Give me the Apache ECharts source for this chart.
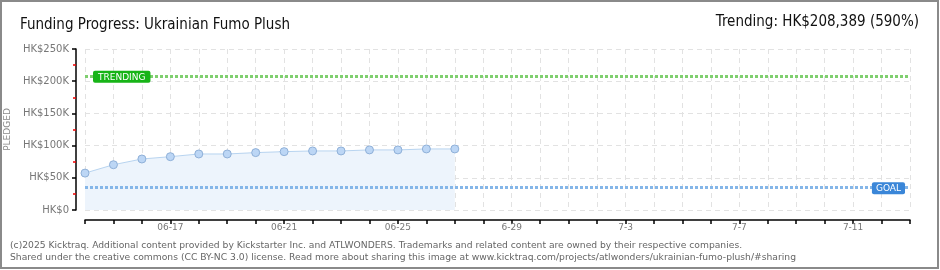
<!DOCTYPE html>
<html><head><meta charset="utf-8">
<script src="https://cdn.jsdelivr.net/npm/echarts@6/dist/echarts.min.js"></script>
<style>html,body{margin:0;padding:0;background:#fff}#c{width:940px;height:270px}</style>
</head><body><div id="c"></div>
<script>
const categories = ['06-14','06-15','06-16','06-17','06-18','06-19','06-20','06-21','06-22','06-23','06-24','06-25','06-26','06-27',
  '6-28','6-29','6-30','7-1','7-2','7-3','7-4','7-5','7-6','7-7','7-8','7-9','7-10','7-11','7-12','7-13'];
const pledged = [57300, 70300, 79200, 82800, 87000, 87000, 89100, 90600, 91700, 91700, 93300, 93300, 94800, 94800];
const goal = 35320;
const trending = 208389;
const yTicks = [0, 50000, 100000, 150000, 200000, 250000];
const titleText = 'Funding Progress: Ukrainian Fumo Plush';
const trendText = 'Trending: HK$208,389 (590%)';
const footer1 = '(c)2025 Kicktraq. Additional content provided by Kickstarter Inc. and ATLWONDERS. Trademarks and related content are owned by their respective companies.';
const footer2 = 'Shared under the creative commons (CC BY-NC 3.0) license. Read more about sharing this image at www.kicktraq.com/projects/atlwonders/ukrainian-fumo-plush/#sharing';

const chart = echarts.init(document.getElementById('c'), null, {renderer: 'canvas'});
const condensed = '"DejaVu Sans Condensed", "Liberation Sans Narrow", "DejaVu Sans", sans-serif';
chart.setOption({
  animation: false,
  backgroundColor: '#fff',
  title: [
    {text: titleText, left: 15, top: 13, textStyle: {fontFamily: condensed, fontSize: 15, fontWeight: 'normal', color: '#111'}},
    {text: trendText, right: 16, top: 10, textStyle: {fontFamily: condensed, fontSize: 15, fontWeight: 'normal', color: '#111'}},
    {text: footer1 + '\n' + footer2, left: 5, top: 235, textStyle: {fontFamily: '"DejaVu Sans", sans-serif', fontSize: 9.2, fontWeight: 'normal', color: '#666', lineHeight: 11.5}}
  ],
  graphic: [{type: 'rect', shape: {x: 1, y: 1, width: 937, height: 267}, style: {fill: 'none', stroke: '#8a8a8a', lineWidth: 2}, silent: true}],
  grid: {left: 85, right: 30, top: 49, bottom: 60, outerBoundsMode: 'none', containLabel: false},
  xAxis: {
    type: 'category', data: categories, boundaryGap: false, offset: 10,
    axisLine: {onZero: false, lineStyle: {color: '#000', width: 1.5}},
    axisTick: {interval: 0, length: 4, lineStyle: {color: '#000', width: 1.5}},
    axisLabel: {interval: (i) => i % 4 === 3, color: '#777', fontSize: 9, margin: 3, fontFamily: '"DejaVu Sans", sans-serif'},
    splitLine: {show: true, interval: 0, lineStyle: {color: '#e2e2e2', type: [5, 4]}}
  },
  yAxis: {
    type: 'value', min: 0, max: 250000, interval: 50000, offset: 9,
    name: 'PLEDGED', nameLocation: 'middle', nameGap: 58, nameRotate: 90,
    nameTextStyle: {color: '#888', fontSize: 9, fontFamily: '"DejaVu Sans", sans-serif'},
    axisLine: {show: true, lineStyle: {color: '#000', width: 1.5}},
    axisTick: {show: true, length: 4, lineStyle: {color: '#000', width: 1.5}},
    minorTick: {show: true, splitNumber: 2, length: 3, lineStyle: {color: '#e00', width: 1.5}},
    axisLabel: {color: '#777', fontSize: 10, margin: 7, fontFamily: '"DejaVu Sans", sans-serif',
      formatter: (v) => yTicks.includes(v) ? (v === 0 ? 'HK$0' : 'HK$' + (v / 1000) + 'K') : ''},
    splitLine: {show: true, lineStyle: {color: '#e2e2e2', type: [5, 4]}}
  },
  series: [{
    type: 'line', data: pledged, symbol: 'circle', symbolSize: 8,
    itemStyle: {color: '#bcd6f5', borderColor: '#8fb0d8', borderWidth: 1},
    lineStyle: {color: '#b8d4f0', width: 1},
    areaStyle: {color: '#edf4fc', opacity: 1},
    markLine: {
      silent: true, symbol: 'none',
      data: [
        {yAxis: trending, lineStyle: {color: '#7fcf6f', width: 3, type: [3, 2]},
          label: {show: true, position: 'insideStartTop', distance: -7, formatter: 'TRENDING', color: '#fff', backgroundColor: '#17b417',
            padding: [2, 5, 1, 5], borderRadius: 2, fontSize: 9, fontFamily: '"DejaVu Sans", sans-serif', offset: [15, 0]}},
        {yAxis: goal, lineStyle: {color: '#85b6e8', width: 3, type: [3, 2]},
          label: {show: true, position: 'insideEndTop', distance: -7, formatter: 'GOAL', color: '#fff', backgroundColor: '#3a86d8',
            padding: [2, 4, 1, 4], borderRadius: 2, fontSize: 9, fontFamily: '"DejaVu Sans", sans-serif', offset: [-12, 0]}}
      ]
    }
  }]
});
</script></body></html>
